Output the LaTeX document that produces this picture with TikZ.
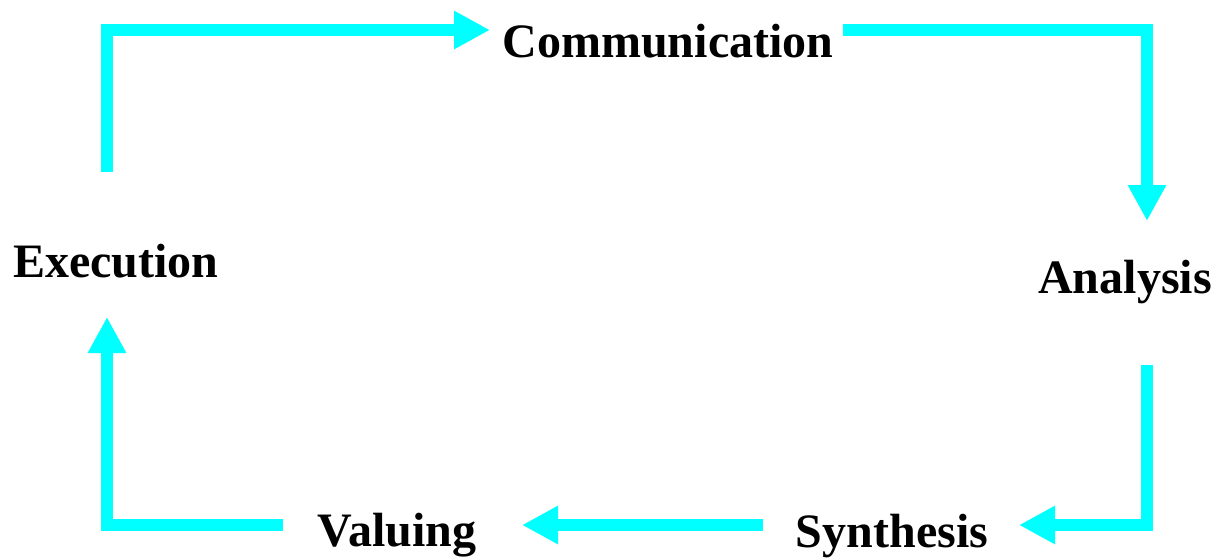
\documentclass[tikz,border=0pt]{standalone}
\usepackage{fontspec}
\setmainfont{Liberation Serif}
\usetikzlibrary{arrows.meta}
\definecolor{flowcyan}{HTML}{00FFFF}
\tikzset{
  flow/.style={draw=flowcyan, line width=12pt, line join=miter, line cap=butt,
    -{Triangle[length=36pt,width=36pt]}},
  lbl/.style={anchor=base, inner sep=0pt, font=\fontsize{48}{56}\selectfont\bfseries}
}
\begin{document}
\begin{tikzpicture}[x=1pt,y=-1pt]
\useasboundingbox[fill=white] (0,0) rectangle (1214,558);
\node[lbl] (comm) at (668,57) {Communication};
\node[lbl] (exec) at (116,277) {Execution};
\node[lbl] (anal) at (1125,293) {Analysis};
\node[lbl] (synt) at (892,547) {Synthesis};
\node[lbl] (valu) at (397,546) {Valuing};
\coordinate (s1) at (107,172);
\coordinate (e1) at (490,30);
\coordinate (s2) at (843,30);
\coordinate (e2) at (1147,221);
\coordinate (s3) at (1147,365);
\coordinate (e3) at (1019,525);
\coordinate (s4) at (763,525);
\coordinate (e4) at (522,525);
\coordinate (s5) at (283,525);
\coordinate (e5) at (107,317);
\draw[flow] (s1) |- (e1);
\draw[flow] (s2) -| (e2);
\draw[flow] (s3) |- (e3);
\draw[flow] (s4) -- (e4);
\draw[flow] (s5) -| (e5);
\end{tikzpicture}
\end{document}
